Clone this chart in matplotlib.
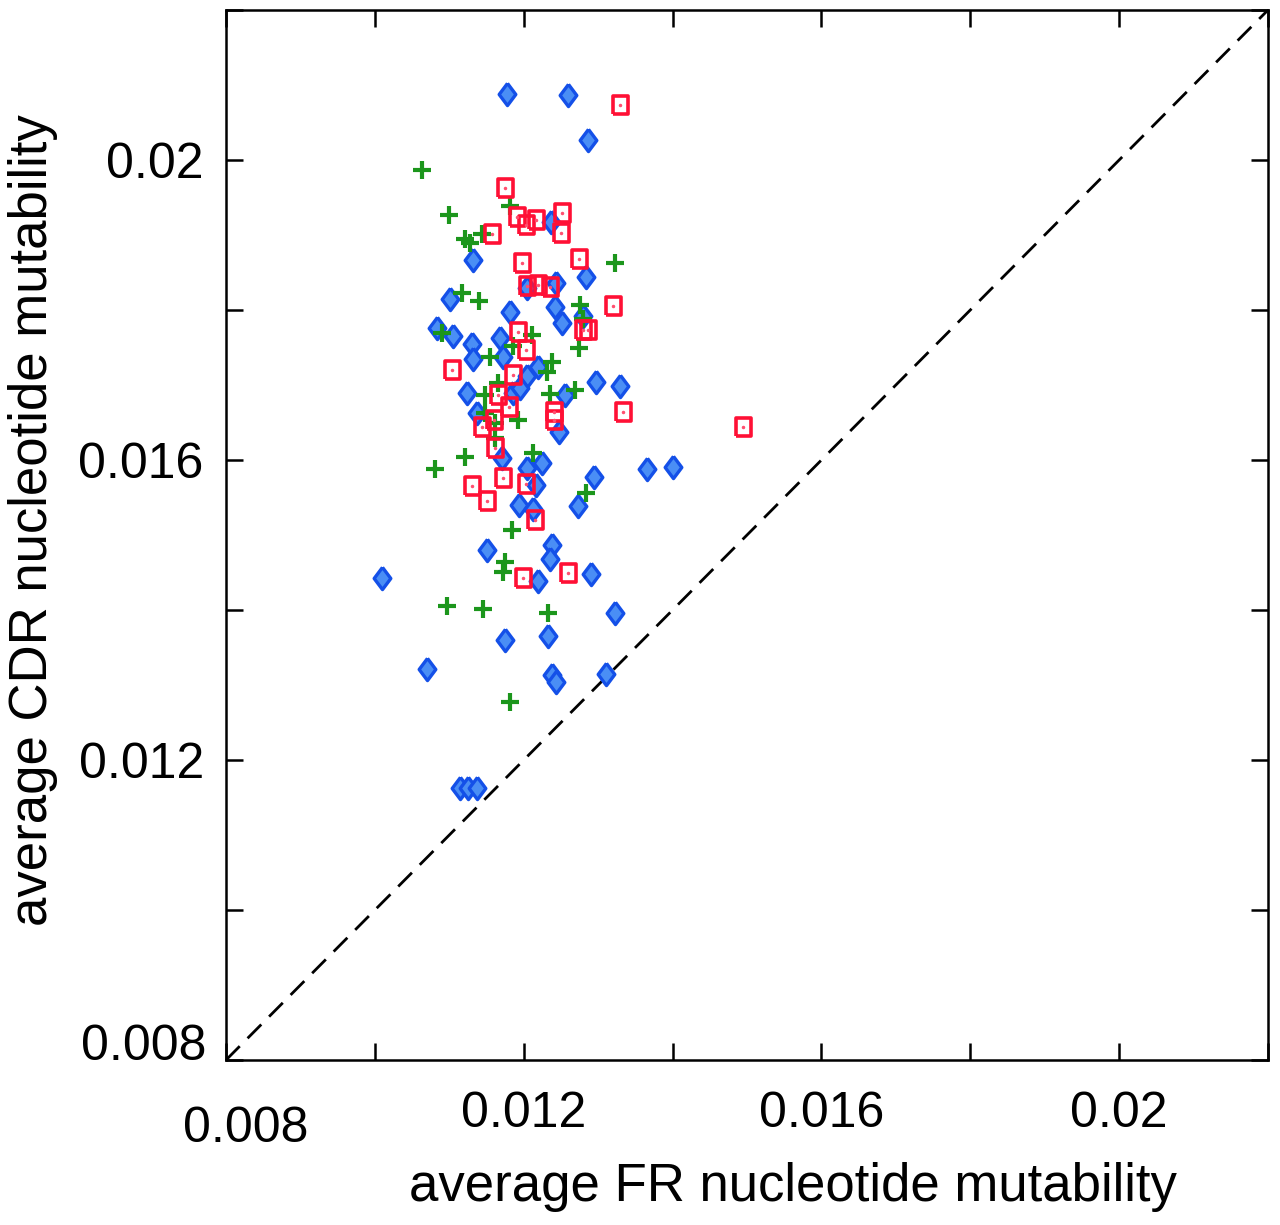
import numpy as np
import matplotlib
matplotlib.use("Agg")
import matplotlib.pyplot as plt

plt.rcParams['font.family'] = ['Liberation Sans', 'DejaVu Sans']
plt.rcParams['font.size'] = 36

# average FR (x) / CDR (y) nucleotide mutability, three groups
blue_fr = [0.01177, 0.01259, 0.01286, 0.01236, 0.01132, 0.01204, 0.01244, 0.01283,
           0.01101, 0.01181, 0.01242, 0.01251, 0.01279, 0.01083, 0.01105, 0.01130,
           0.01132, 0.01168, 0.01172, 0.01219, 0.01204, 0.01124, 0.01137, 0.01185,
           0.01195, 0.01255, 0.01297, 0.01329, 0.01247, 0.01171, 0.01205, 0.01224,
           0.01217, 0.01193, 0.01212, 0.01273, 0.01294, 0.01365, 0.01400, 0.01150,
           0.01238, 0.01235, 0.01219, 0.01291, 0.01009, 0.01175, 0.01232, 0.01322,
           0.01070, 0.01238, 0.01244, 0.01310, 0.01114, 0.01125, 0.01137]
blue_cdr = [0.02088, 0.02087, 0.02027, 0.01917, 0.01867, 0.01829, 0.01836, 0.01844,
            0.01815, 0.01797, 0.01804, 0.01783, 0.01792, 0.01776, 0.01765, 0.01755,
            0.01735, 0.01763, 0.01737, 0.01724, 0.01712, 0.01689, 0.01663, 0.01689,
            0.01696, 0.01687, 0.01704, 0.01699, 0.01637, 0.01603, 0.01589, 0.01596,
            0.01567, 0.01540, 0.01535, 0.01539, 0.01577, 0.01588, 0.01591, 0.01480,
            0.01487, 0.01468, 0.01439, 0.01448, 0.01443, 0.01360, 0.01365, 0.01396,
            0.01321, 0.01313, 0.01304, 0.01315, 0.01163, 0.01163, 0.01163]

green_fr = [0.01063, 0.01099, 0.01181, 0.01121, 0.01128, 0.01144, 0.01322, 0.01117,
            0.01140, 0.01275, 0.01279, 0.01090, 0.01211, 0.01185, 0.01154, 0.01274,
            0.01238, 0.01231, 0.01165, 0.01148, 0.01235, 0.01269, 0.01148, 0.01192,
            0.01161, 0.01161, 0.01121, 0.01081, 0.01213, 0.01283, 0.01184, 0.01175,
            0.01172, 0.01097, 0.01145, 0.01232, 0.01181]
green_cdr = [0.01987, 0.01927, 0.01939, 0.01895, 0.01889, 0.01901, 0.01863, 0.01823,
             0.01812, 0.01807, 0.01788, 0.01769, 0.01767, 0.01752, 0.01737, 0.01749,
             0.01731, 0.01717, 0.01703, 0.01687, 0.01688, 0.01693, 0.01663, 0.01653,
             0.01649, 0.01629, 0.01604, 0.01588, 0.01609, 0.01556, 0.01507, 0.01464,
             0.01451, 0.01405, 0.01401, 0.01396, 0.01277]

red_fr = [0.01330, 0.01175, 0.01191, 0.01203, 0.01217, 0.01252, 0.01250, 0.01157,
          0.01274, 0.01197, 0.01204, 0.01219, 0.01235, 0.01320, 0.01279, 0.01286,
          0.01192, 0.01203, 0.01103, 0.01185, 0.01165, 0.01180, 0.01144, 0.01160,
          0.01162, 0.01240, 0.01240, 0.01334, 0.01495, 0.01130, 0.01172, 0.01203,
          0.01150, 0.01215, 0.01199, 0.01260]
red_cdr = [0.02073, 0.01963, 0.01924, 0.01913, 0.01920, 0.01929, 0.01903, 0.01901,
           0.01868, 0.01863, 0.01832, 0.01833, 0.01831, 0.01805, 0.01773, 0.01773,
           0.01771, 0.01747, 0.01720, 0.01713, 0.01687, 0.01671, 0.01644, 0.01653,
           0.01616, 0.01664, 0.01653, 0.01664, 0.01644, 0.01565, 0.01576, 0.01568,
           0.01545, 0.01520, 0.01443, 0.01449]

tick_values = [0.008, 0.010, 0.012, 0.014, 0.016, 0.018, 0.020, 0.022]
tick_labels = ['', '', '0.012', '', '0.016', '', '0.02', '']

# marker shapes: a fat diamond and a slightly tall box
diamond = [(0, 1), (0.75, 0), (0, -1), (-0.75, 0), (0, 1)]
box = [(-0.8, -1), (0.8, -1), (0.8, 1), (-0.8, 1), (-0.8, -1)]

fig = plt.figure(figsize=(12.8, 12.25), dpi=100)
ax = fig.add_axes([0.1766, 0.1347, 0.8140, 0.8571])

# diagonal y = x reference
ax.plot([0.008, 0.022], [0.008, 0.022], color='black', linestyle=(0, (7, 4)), linewidth=2)

ax.plot(blue_fr, blue_cdr, linestyle='none', marker=diamond, markersize=16,
        markerfacecolor='#4a8ef5', markeredgecolor='#1450e8', markeredgewidth=2.4)
ax.plot(green_fr, green_cdr, linestyle='none', marker='+', markersize=13,
        color='#1c961c', markeredgewidth=3)
ax.plot(red_fr, red_cdr, linestyle='none', marker=box, markersize=13.5,
        markerfacecolor='none', markeredgecolor='#ff1035', markeredgewidth=2.6)
ax.plot(red_fr, red_cdr, linestyle='none', marker='.', markersize=3,
        color='#ff5070')

ax.set_xlim(0.008, 0.022)
ax.set_ylim(0.008, 0.022)
ax.set_xticks(tick_values, tick_labels)
ax.set_yticks(tick_values, tick_labels)
ax.tick_params(direction='in', length=12, width=1.8, top=True, right=True,
               labelsize=36)
ax.tick_params(axis='x', pad=22)
ax.tick_params(axis='y', pad=16)

# the 0.008 labels sit a little off their ticks
ax.annotate('0.008', xy=(0.008, 0.008), xycoords='data', xytext=(14, -50),
            textcoords='offset points', ha='center', va='center', fontsize=36,
            annotation_clip=False)
ax.annotate('0.008', xy=(0.008, 0.008), xycoords='data', xytext=(-14, 9),
            textcoords='offset points', ha='right', va='center', fontsize=36,
            annotation_clip=False)

for s in ax.spines.values():
    s.set_linewidth(1.8)

ax.set_xlabel('average FR nucleotide mutability', fontsize=38)
ax.set_ylabel('average CDR nucleotide mutability', fontsize=38)
ax.xaxis.set_label_coords(0.544, -0.121)
ax.yaxis.set_label_coords(-0.185, 0.514)
ax.xaxis.label.set_va('center')
ax.yaxis.label.set_va('center')

fig.savefig('out.png', dpi=100)
